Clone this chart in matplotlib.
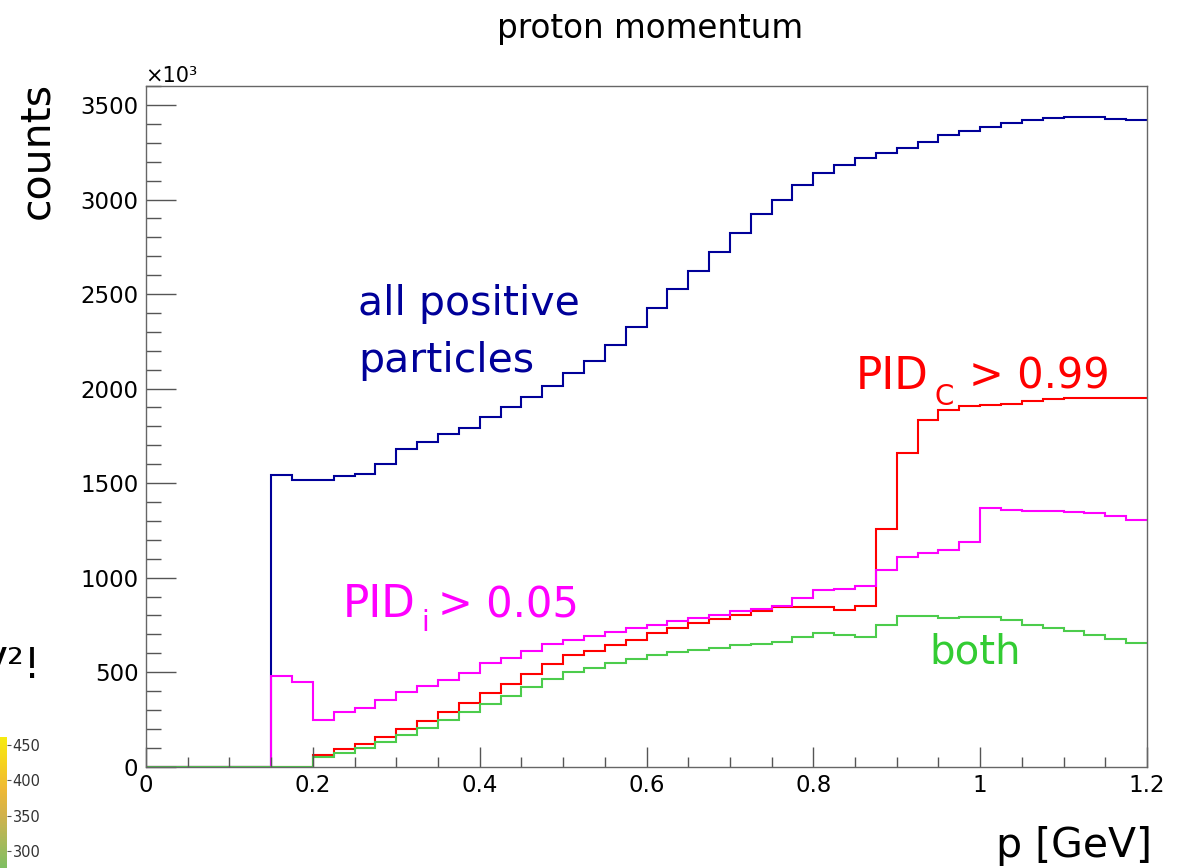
import matplotlib
matplotlib.use("Agg")
import matplotlib.pyplot as plt
import numpy as np
from matplotlib.colors import LinearSegmentedColormap
from matplotlib.ticker import MultipleLocator

plt.rcParams["font.family"] = ["DejaVu Sans"]

# proton momentum histograms, 48 bins of 0.025 GeV from 0 to 1.2
p_min, p_max, n_bins = 0.0, 1.2, 48

all_positive = [0, 0, 0, 0, 0, 0, 1541, 1515, 1519, 1536, 1547, 1603,
                1683, 1715, 1761, 1792, 1849, 1900, 1955, 2013, 2080, 2147,
                2232, 2327, 2428, 2529, 2624, 2725, 2825, 2921, 3000, 3076,
                3138, 3182, 3217, 3245, 3274, 3302, 3341, 3364, 3383, 3403,
                3420, 3429, 3434, 3434, 3425, 3418]
pid_c = [0, 0, 0, 0, 0, 0, 0, 0, 62, 92, 118, 159,
         199, 243, 288, 339, 388, 439, 490, 545, 592, 612,
         642, 672, 706, 732, 758, 780, 802, 825, 843, 846,
         846, 830, 852, 1256, 1660, 1836, 1886, 1907, 1912, 1920,
         1934, 1946, 1951, 1951, 1951, 1951]
pid_i = [0, 0, 0, 0, 0, 0, 481, 446, 249, 288, 312, 354,
         395, 427, 459, 496, 547, 577, 610, 651, 672, 691,
         711, 735, 750, 772, 787, 804, 824, 836, 850, 892,
         936, 942, 957, 1042, 1109, 1132, 1148, 1189, 1367, 1360,
         1354, 1354, 1349, 1340, 1325, 1307]
both = [0, 0, 0, 0, 0, 0, 0, 0, 50, 71, 101, 132,
        166, 205, 249, 289, 330, 376, 422, 466, 501, 522,
        547, 571, 589, 607, 617, 629, 642, 651, 661, 684,
        706, 697, 684, 751, 797, 797, 788, 792, 792, 774,
        751, 735, 718, 697, 674, 656]

# leftover colour scale from the neighbouring slide plot
cbar_ticks = [300, 350, 400, 450]
cbar_range = (276, 461)

W, H = 1177, 868


def fx(px):
    return px / W


def fy(py):
    return 1 - py / H


fig = plt.figure(figsize=(W / 100, H / 100), dpi=100)
fig.patch.set_facecolor("white")

ax = fig.add_axes([fx(146), fy(766.7), fx(1147) - fx(146), fy(85.7) - fy(766.7)])
edges = np.linspace(p_min, p_max, n_bins + 1)

ax.stairs(all_positive, edges, baseline=None, color="#000099", lw=1.5)
ax.stairs(pid_c, edges, baseline=None, color="#ff0000", lw=1.5)
ax.stairs(pid_i, edges, baseline=None, color="#ff00ff", lw=1.5)
ax.stairs(both, edges, baseline=None, color="#4ccc4c", lw=1.5)

ax.set_xlim(p_min, p_max)
ax.set_ylim(0, 3602)
ax.xaxis.set_major_locator(MultipleLocator(0.2))
ax.xaxis.set_minor_locator(MultipleLocator(0.05))
ax.yaxis.set_major_locator(MultipleLocator(500))
ax.yaxis.set_minor_locator(MultipleLocator(100))
ax.set_xticklabels([f"{v:g}" for v in ax.get_xticks()])

for s in ax.spines.values():
    s.set_color("#666666")
    s.set_linewidth(1)
ax.tick_params(axis="both", which="both", direction="in", color="#555555",
               top=False, right=False, labelsize=16.5, width=1)
ax.tick_params(axis="y", which="major", length=21.6, pad=5.5)
ax.tick_params(axis="y", which="minor", length=10.8)
ax.tick_params(axis="x", which="major", length=14.4, pad=5.5)
ax.tick_params(axis="x", which="minor", length=7.2)

# titles
fig.text(fx(650), fy(38), "proton momentum", ha="center", va="baseline", fontsize=23.5)
fig.text(fx(48), fy(82), "counts", rotation=90, rotation_mode="anchor",
         ha="right", va="baseline", fontsize=29.5)
fig.text(fx(1152), fy(857), "p [GeV]", ha="right", va="baseline", fontsize=29.5)
fig.text(fx(145), fy(82), "×10³", ha="left", va="baseline", fontsize=15)

# annotations
fig.text(fx(358), fy(315), "all positive", color="#000099", ha="left", va="baseline", fontsize=29.5)
fig.text(fx(358), fy(372), "particles", color="#000099", ha="left", va="baseline", fontsize=29.5)

fig.text(fx(856), fy(389), "PID", color="#ff0000", ha="left", va="baseline", fontsize=31.5)
fig.text(fx(935), fy(405), "C", color="#ff0000", ha="left", va="baseline", fontsize=20)
fig.text(fx(969), fy(389), "> 0.99", color="#ff0000", ha="left", va="baseline", fontsize=30)

fig.text(fx(343), fy(617), "PID", color="#ff00ff", ha="left", va="baseline", fontsize=31.5)
fig.text(fx(421), fy(631), "i", color="#ff00ff", ha="left", va="baseline", fontsize=20)
fig.text(fx(438), fy(617), "> 0.05", color="#ff00ff", ha="left", va="baseline", fontsize=30)

fig.text(fx(929), fy(663), "both", color="#33cc33", ha="left", va="baseline", fontsize=29)

# cut-off pieces of the neighbouring plot on the left edge
fig.text(fx(41), fy(678), "eV²!", ha="right", va="baseline", fontsize=30)

cax = fig.add_axes([0, 0, fx(7), fy(737)])
cmap = LinearSegmentedColormap.from_list(
    "slide", ["#7fbf62", "#a9b95a", "#d2b24c", "#efb935", "#f6d21e", "#f7ec10"])
grad = np.linspace(cbar_range[0], cbar_range[1], 200).reshape(-1, 1)
cax.imshow(grad, aspect="auto", cmap=cmap, origin="lower",
           extent=[0, 1, cbar_range[0], cbar_range[1]])
cax.set_ylim(*cbar_range)
cax.set_xticks([])
cax.yaxis.tick_right()
cax.set_yticks(cbar_ticks)
cax.tick_params(axis="y", length=3, pad=1, labelsize=10.5, labelcolor="#333333", color="#555555")
for s in cax.spines.values():
    s.set_visible(False)

fig.savefig("out.png", dpi=100)
